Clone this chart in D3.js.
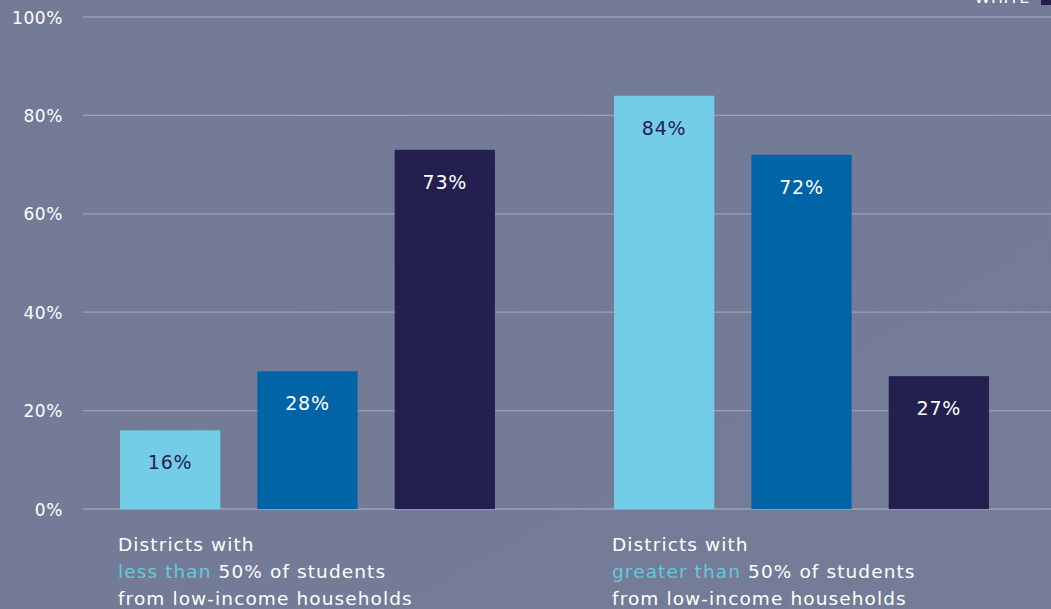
<!DOCTYPE html>
<html><head><meta charset="utf-8">
<script src="https://cdn.jsdelivr.net/npm/d3@7"></script>
<style>
html,body{margin:0;padding:0;overflow:hidden;background:#737b96;}
svg{display:block;font-family:"DejaVu Sans",sans-serif;}
</style></head>
<body>
<svg id="chart" width="1051" height="609"></svg>
<script>
const groups = ["less", "greater"];
const series = ["Black", "Latino", "White"];
const valuesLess = [16, 28, 73];
const valuesGreater = [84, 72, 27];
const yTicks = [0, 20, 40, 60, 80, 100];
const groupLabels = [
  ["Districts with", ["less than", " 50% of students"], "from low-income households"],
  ["Districts with", ["greater than", " 50% of students"], "from low-income households"]
];
const colors = ["#74cde6", "#0064a6", "#231f4f"];
const labelColors = ["#231f4f", "#ffffff", "#ffffff"];

const W = 1051, H = 609;
const svg = d3.select("#chart");
const FONT = "'DejaVu Sans',sans-serif";

const defs = svg.append("defs");
const grad = defs.append("linearGradient").attr("id","bg").attr("x1","0").attr("y1","0").attr("x2","1").attr("y2","1");
grad.append("stop").attr("offset","0").attr("stop-color","#727a96");
grad.append("stop").attr("offset","1").attr("stop-color","#747c97");
svg.append("rect").attr("width",W).attr("height",H).attr("fill","url(#bg)");

const y = d3.scaleLinear().domain([0,100]).range([509,17]);
const x0 = d3.scaleBand().domain(groups).range([120,989]).paddingInner(0.241).paddingOuter(0);
const x1 = d3.scaleBand().domain(series).range([0,x0.bandwidth()]).paddingInner(0.27).paddingOuter(0);

const yAxis = d3.axisLeft(y).tickValues(yTicks).tickFormat(d=>d+"%").tickSize(0).tickPadding(0);
const gAxis = svg.append("g").attr("transform","translate(63,0)").call(yAxis);
gAxis.select(".domain").remove();
gAxis.selectAll("text").attr("fill","#ffffff").attr("font-size","17px")
  .attr("font-family",FONT).attr("letter-spacing","0.6px").attr("dy","0.36em");
svg.append("g").selectAll("line").data(yTicks).join("line")
  .attr("x1",83).attr("x2",W).attr("y1",d=>y(d)).attr("y2",d=>y(d))
  .attr("stroke","#9ba2ba").attr("stroke-width",1.3);

const data = groups.map((g,i)=>({group:g, values:(i===0?valuesLess:valuesGreater)}));

const gg = svg.append("g").selectAll("g").data(data).join("g")
  .attr("transform",d=>`translate(${x0(d.group)},0)`);
gg.selectAll("rect").data(d=>d.values.map((v,j)=>({v,j}))).join("rect")
  .attr("x",d=>x1(series[d.j])).attr("width",x1.bandwidth())
  .attr("y",d=>y(d.v)).attr("height",d=>y(0)-y(d.v))
  .attr("fill",d=>colors[d.j]);
gg.selectAll("text.val").data(d=>d.values.map((v,j)=>({v,j}))).join("text")
  .attr("class","val")
  .attr("x",d=>x1(series[d.j])+x1.bandwidth()/2)
  .attr("y",d=>y(d.v)+39)
  .attr("text-anchor","middle")
  .attr("font-family",FONT)
  .attr("font-size","19px").attr("letter-spacing","0.8px")
  .attr("fill",d=>labelColors[d.j])
  .text(d=>d.v+"%");

groups.forEach((g,i)=>{
  const lx = x0(g)-2;
  const t = svg.append("g").attr("font-family",FONT).attr("font-size","18.5px").attr("letter-spacing","1.1px").attr("fill","#fff");
  const lines = groupLabels[i];
  t.append("text").attr("x",lx).attr("y",551).text(lines[0]);
  const t2 = t.append("text").attr("x",lx).attr("y",578);
  t2.append("tspan").attr("fill","#62cbd9").text(lines[1][0]);
  t2.append("tspan").text(lines[1][1]);
  t.append("text").attr("x",lx).attr("y",605).text(lines[2]);
});

// legend: only the last entry reaches into the visible area
const leg = svg.append("g");
const li = series.length-1;
leg.append("rect").attr("x",1041).attr("y",-10).attr("width",12).attr("height",15).attr("fill",colors[li]);
leg.append("text").attr("x",1030).attr("y",3).attr("text-anchor","end")
  .attr("font-family",FONT).attr("letter-spacing","0.6px")
  .attr("fill","#fff").attr("font-size","16px").text(series[li].toUpperCase());
</script>
</body></html>
